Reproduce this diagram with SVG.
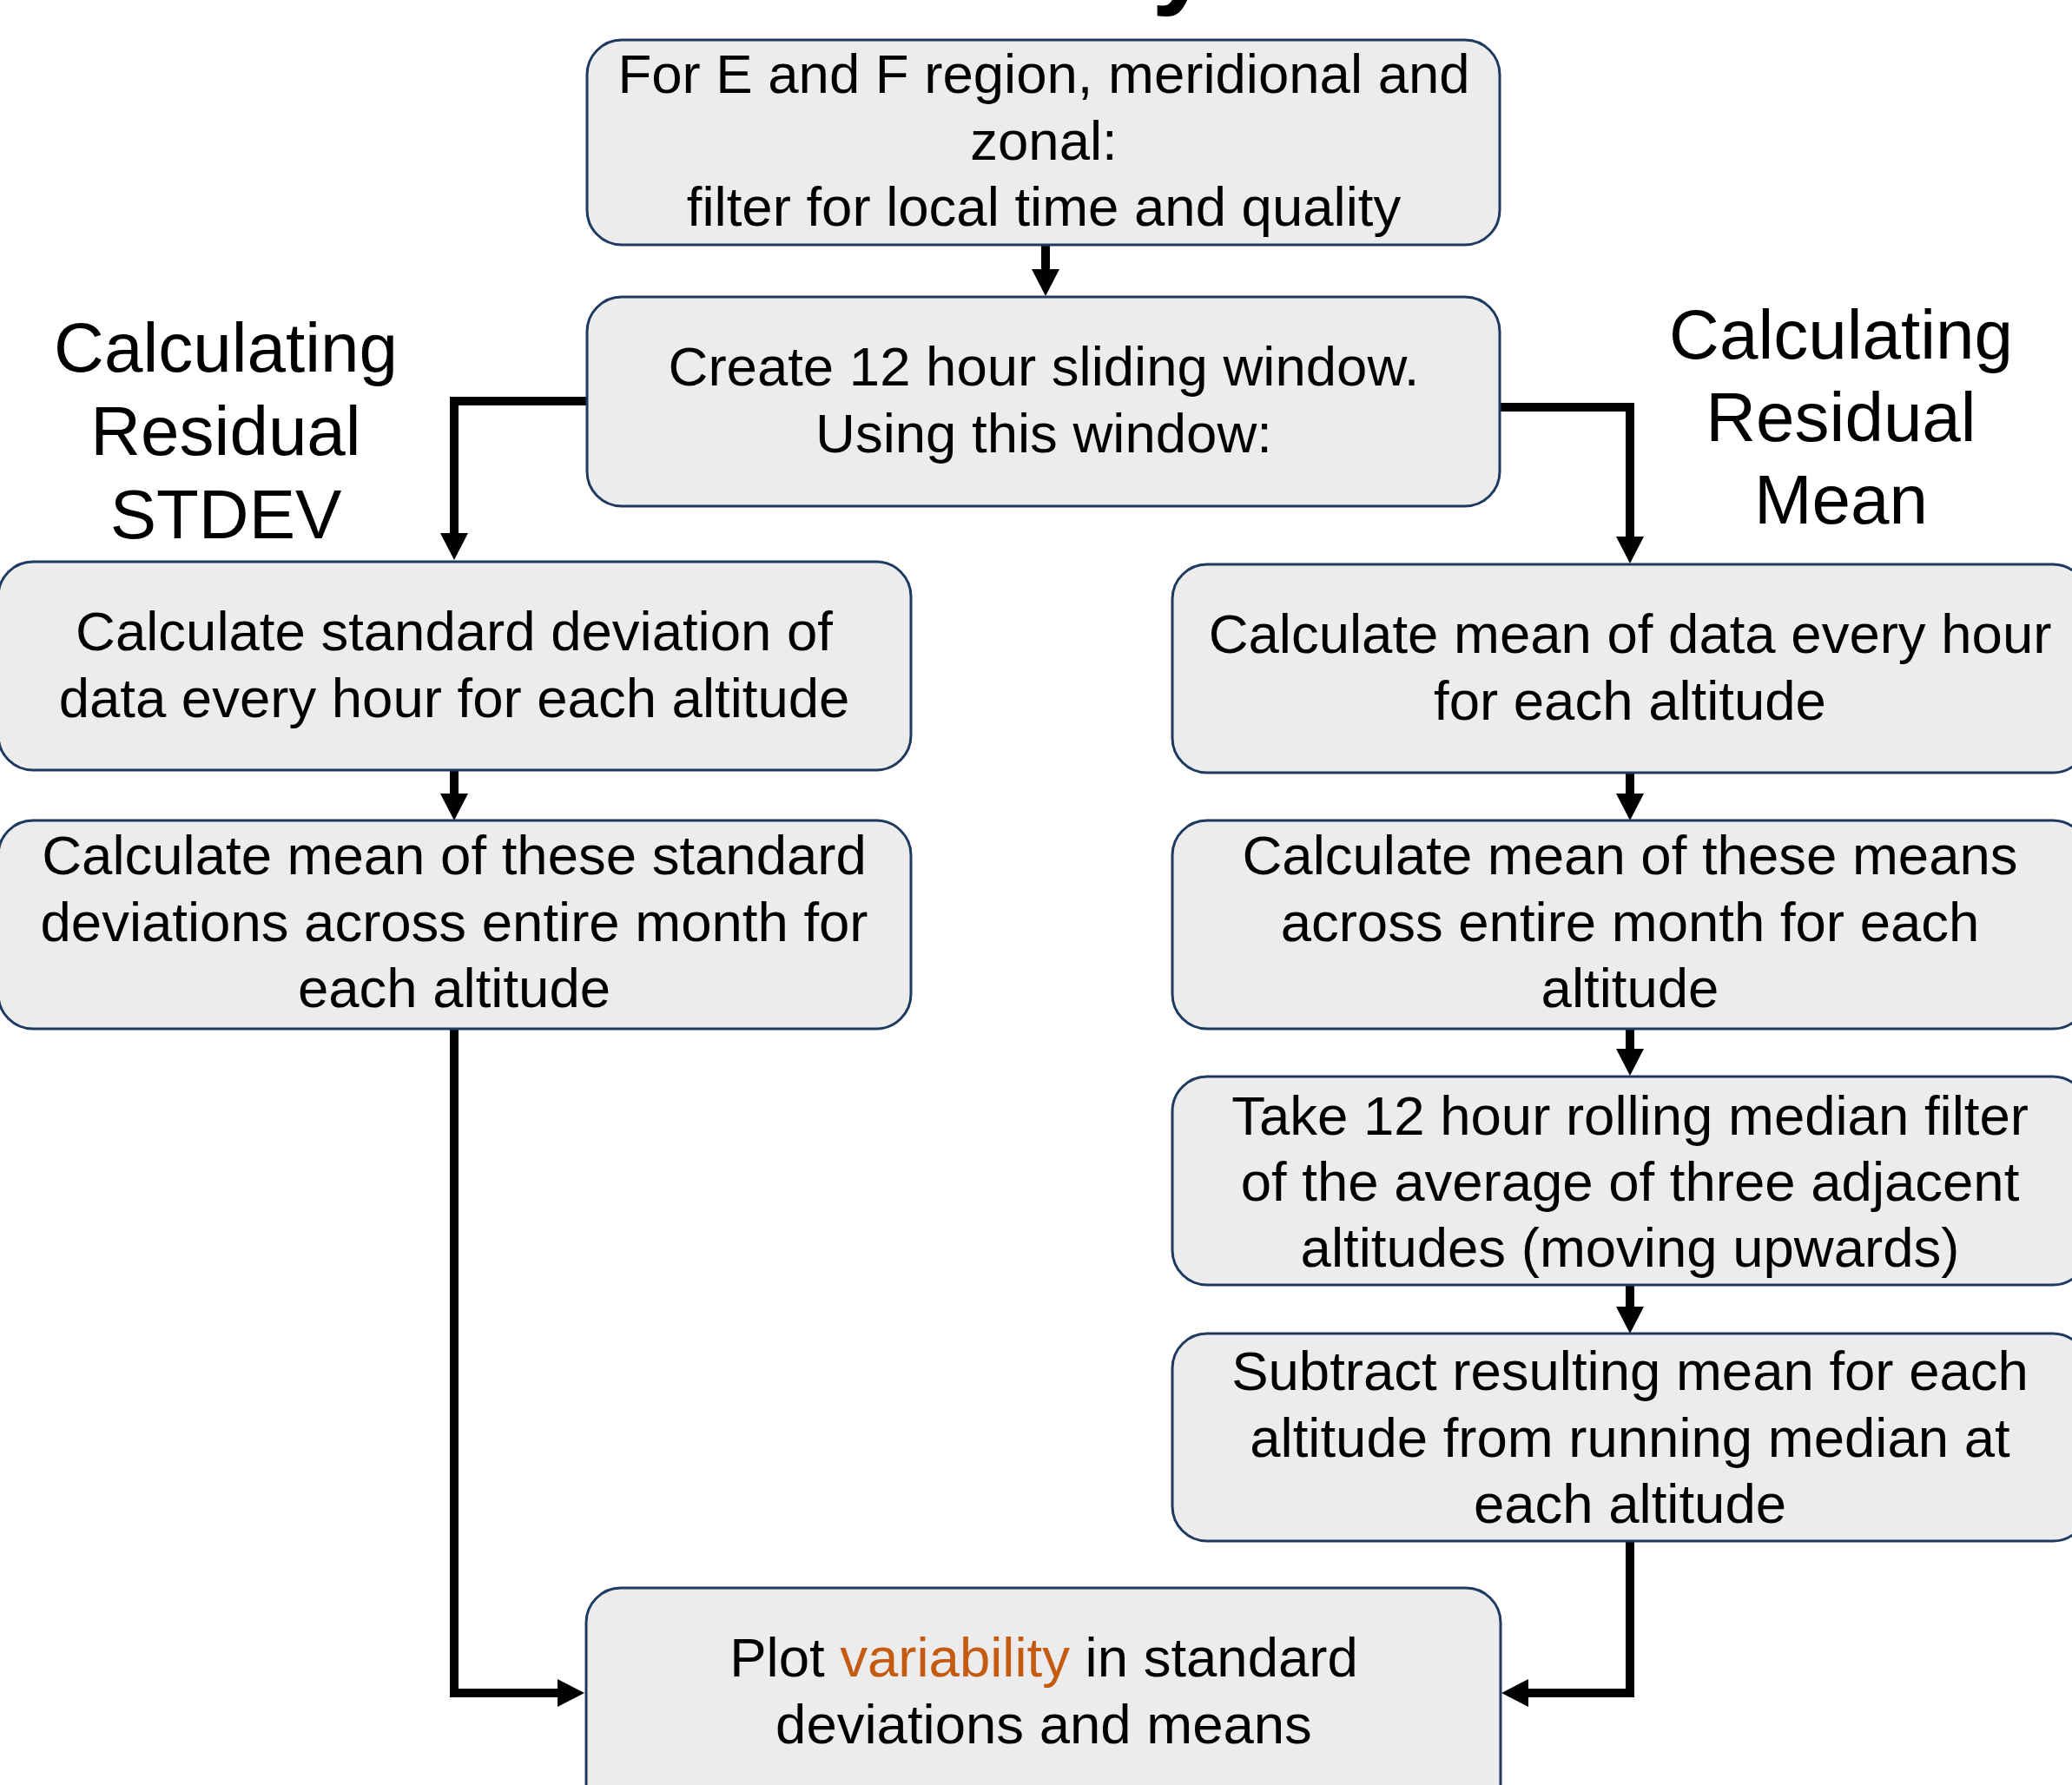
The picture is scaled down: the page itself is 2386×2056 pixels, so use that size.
<svg xmlns="http://www.w3.org/2000/svg" width="2386" height="2056" viewBox="0 0 2386 2056">
  <defs>
    <style>
      .box { fill: #ececec; stroke: #1f3a60; stroke-width: 3; }
      .t { font-family: "Liberation Sans", Arial, sans-serif; font-size: 63.5px; fill: #000; text-anchor: middle; }
      .h { font-family: "Liberation Sans", Arial, sans-serif; font-size: 80px; fill: #000; text-anchor: middle; }
      .title { font-family: "Liberation Sans", Arial, sans-serif; font-size: 124px; font-weight: bold; fill: #000; }
      .hl { fill: #c55a11; }
      .c { fill: none; stroke: #000; stroke-width: 10; stroke-linejoin: miter; }
    </style>
    <marker id="ah" markerUnits="userSpaceOnUse" viewBox="0 0 31 32" refX="1" refY="16" markerWidth="31" markerHeight="32" orient="auto">
      <polygon points="0,0 31,16 0,32" fill="#000"/>
    </marker>
  </defs>
  <rect width="2386" height="2056" fill="#ffffff"/>

  <text class="title" x="759" y="-7">Data Analysis</text>

  <g id="label-stdev">
    <text class="h" x="260" y="428">Calculating</text>
    <text class="h" x="260" y="524">Residual</text>
    <text class="h" x="260" y="620">STDEV</text>
  </g>
  <g id="label-mean">
    <text class="h" x="2120" y="413">Calculating</text>
    <text class="h" x="2120" y="508">Residual</text>
    <text class="h" x="2120" y="603">Mean</text>
  </g>

  <g id="connectors">
    <path class="c" d="M1204 282 V311" marker-end="url(#ah)"/>
    <path class="c" d="M676 462 H523 V615" marker-end="url(#ah)"/>
    <path class="c" d="M1722 469 H1877 V619" marker-end="url(#ah)"/>
    <path class="c" d="M523 887 V915" marker-end="url(#ah)"/>
    <path class="c" d="M1877 890 V915" marker-end="url(#ah)"/>
    <path class="c" d="M1877 1185 V1209" marker-end="url(#ah)"/>
    <path class="c" d="M1877 1480 V1506" marker-end="url(#ah)"/>
    <path class="c" d="M523 1185 V1950 H643" marker-end="url(#ah)"/>
    <path class="c" d="M1877 1775 V1950 H1759" marker-end="url(#ah)"/>
  </g>

  <g id="n1">
    <rect class="box" x="676" y="46" width="1051" height="236" rx="40"/>
    <text class="t" x="1202" y="107">For E and F region, meridional and</text>
    <text class="t" x="1202" y="184">zonal:</text>
    <text class="t" x="1202" y="260">filter for local time and quality</text>
  </g>
  <g id="n2">
    <rect class="box" x="676" y="342" width="1051" height="241" rx="40"/>
    <text class="t" x="1202" y="444">Create 12 hour sliding window.</text>
    <text class="t" x="1202" y="521">Using this window:</text>
  </g>
  <g id="l1">
    <rect class="box" x="-2" y="647" width="1051" height="240" rx="40"/>
    <text class="t" x="523" y="749">Calculate standard deviation of</text>
    <text class="t" x="523" y="826">data every hour for each altitude</text>
  </g>
  <g id="l2">
    <rect class="box" x="-2" y="945" width="1051" height="240" rx="40"/>
    <text class="t" x="523" y="1007">Calculate mean of these standard</text>
    <text class="t" x="523" y="1084">deviations across entire month for</text>
    <text class="t" x="523" y="1160">each altitude</text>
  </g>
  <g id="r1">
    <rect class="box" x="1350" y="650" width="1054" height="240" rx="40"/>
    <text class="t" x="1877" y="752">Calculate mean of data every hour</text>
    <text class="t" x="1877" y="829">for each altitude</text>
  </g>
  <g id="r2">
    <rect class="box" x="1350" y="945" width="1054" height="240" rx="40"/>
    <text class="t" x="1877" y="1007">Calculate mean of these means</text>
    <text class="t" x="1877" y="1084">across entire month for each</text>
    <text class="t" x="1877" y="1160">altitude</text>
  </g>
  <g id="r3">
    <rect class="box" x="1350" y="1240" width="1054" height="240" rx="40"/>
    <text class="t" x="1877" y="1307">Take 12 hour rolling median filter</text>
    <text class="t" x="1877" y="1383">of the average of three adjacent</text>
    <text class="t" x="1877" y="1459">altitudes (moving upwards)</text>
  </g>
  <g id="r4">
    <rect class="box" x="1350" y="1536" width="1054" height="239" rx="40"/>
    <text class="t" x="1877" y="1601">Subtract resulting mean for each</text>
    <text class="t" x="1877" y="1678">altitude from running median at</text>
    <text class="t" x="1877" y="1754">each altitude</text>
  </g>
  <g id="final">
    <rect class="box" x="675" y="1829" width="1053" height="270" rx="40"/>
    <text class="t" x="1202" y="1931">Plot <tspan class="hl">variability</tspan> in standard</text>
    <text class="t" x="1202" y="2008">deviations and means</text>
  </g>
</svg>
